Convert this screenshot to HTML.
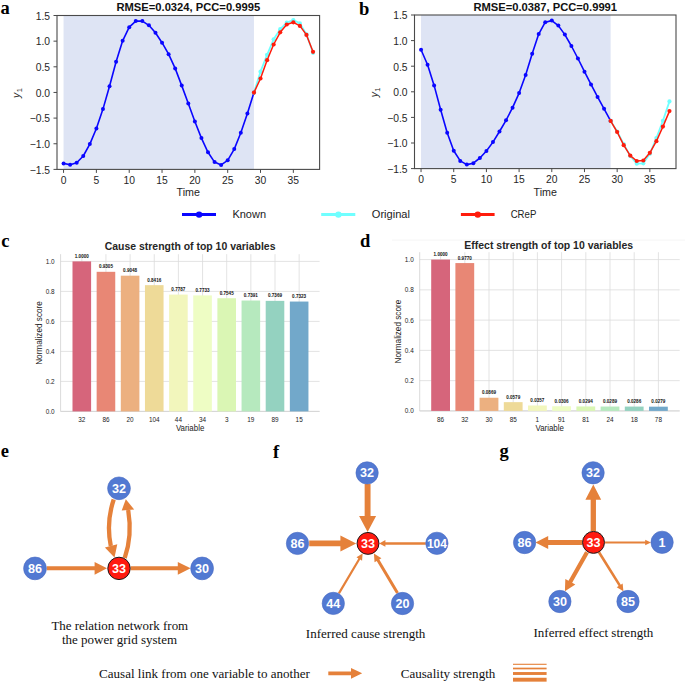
<!DOCTYPE html><html><head><meta charset="utf-8"><style>
html,body{margin:0;padding:0;background:#fff;width:685px;height:683px;overflow:hidden}
svg{display:block} text{font-family:"Liberation Sans", sans-serif;}
.tk{font-size:10.3px;fill:#262626}
.ttl{font-size:11.2px;font-weight:bold;fill:#111}
.lg{font-size:11.1px;fill:#222}
.btk{font-size:6.4px;fill:#222}
.blab{font-size:8.6px;fill:#222}
.bttl{font-size:11.2px;font-weight:bold;fill:#262626}
.val{font-size:4.6px;font-weight:bold;fill:#111}
.pl{font-family:"Liberation Serif", serif;font-weight:bold;font-size:18.5px;fill:#000}
.cap{font-family:"Liberation Serif", serif;font-size:13.2px;fill:#111}
.nd{font-weight:bold;fill:#fff}
</style></head><body>
<svg width="685" height="683" viewBox="0 0 685 683">
<rect width="685" height="683" fill="#fff"/>
<text x="0.4" y="14.4" class="pl">a</text>
<text x="359.1" y="14.6" class="pl">b</text>
<text x="1.2" y="247.2" class="pl">c</text>
<text x="360" y="247.1" class="pl">d</text>
<text x="0.8" y="457.1" class="pl">e</text>
<text x="273" y="457.5" class="pl">f</text>
<text x="499.6" y="456.6" class="pl">g</text>
<rect x="63.56" y="15.50" width="190.39" height="153.90" fill="#dee4f4"/>
<rect x="57.00" y="15.50" width="262.60" height="153.90" fill="none" stroke="#4a4a4a" stroke-width="1.1"/>
<line x1="53.50" y1="169.40" x2="57.00" y2="169.40" stroke="#4a4a4a" stroke-width="1"/>
<text x="50.00" y="173.70" text-anchor="end" class="tk">−1.5</text>
<line x1="53.50" y1="143.75" x2="57.00" y2="143.75" stroke="#4a4a4a" stroke-width="1"/>
<text x="50.00" y="148.05" text-anchor="end" class="tk">−1.0</text>
<line x1="53.50" y1="118.10" x2="57.00" y2="118.10" stroke="#4a4a4a" stroke-width="1"/>
<text x="50.00" y="122.40" text-anchor="end" class="tk">−0.5</text>
<line x1="53.50" y1="92.45" x2="57.00" y2="92.45" stroke="#4a4a4a" stroke-width="1"/>
<text x="50.00" y="96.75" text-anchor="end" class="tk">0.0</text>
<line x1="53.50" y1="66.80" x2="57.00" y2="66.80" stroke="#4a4a4a" stroke-width="1"/>
<text x="50.00" y="71.10" text-anchor="end" class="tk">0.5</text>
<line x1="53.50" y1="41.15" x2="57.00" y2="41.15" stroke="#4a4a4a" stroke-width="1"/>
<text x="50.00" y="45.45" text-anchor="end" class="tk">1.0</text>
<line x1="53.50" y1="15.50" x2="57.00" y2="15.50" stroke="#4a4a4a" stroke-width="1"/>
<text x="50.00" y="19.80" text-anchor="end" class="tk">1.5</text>
<line x1="63.56" y1="169.40" x2="63.56" y2="172.90" stroke="#4a4a4a" stroke-width="1"/>
<text x="63.56" y="183.50" text-anchor="middle" class="tk">0</text>
<line x1="96.39" y1="169.40" x2="96.39" y2="172.90" stroke="#4a4a4a" stroke-width="1"/>
<text x="96.39" y="183.50" text-anchor="middle" class="tk">5</text>
<line x1="129.22" y1="169.40" x2="129.22" y2="172.90" stroke="#4a4a4a" stroke-width="1"/>
<text x="129.22" y="183.50" text-anchor="middle" class="tk">10</text>
<line x1="162.04" y1="169.40" x2="162.04" y2="172.90" stroke="#4a4a4a" stroke-width="1"/>
<text x="162.04" y="183.50" text-anchor="middle" class="tk">15</text>
<line x1="194.87" y1="169.40" x2="194.87" y2="172.90" stroke="#4a4a4a" stroke-width="1"/>
<text x="194.87" y="183.50" text-anchor="middle" class="tk">20</text>
<line x1="227.69" y1="169.40" x2="227.69" y2="172.90" stroke="#4a4a4a" stroke-width="1"/>
<text x="227.69" y="183.50" text-anchor="middle" class="tk">25</text>
<line x1="260.51" y1="169.40" x2="260.51" y2="172.90" stroke="#4a4a4a" stroke-width="1"/>
<text x="260.51" y="183.50" text-anchor="middle" class="tk">30</text>
<line x1="293.34" y1="169.40" x2="293.34" y2="172.90" stroke="#4a4a4a" stroke-width="1"/>
<text x="293.34" y="183.50" text-anchor="middle" class="tk">35</text>
<text x="188.30" y="196.40" text-anchor="middle" class="tk" style="font-size:10.7px">Time</text>
<text x="188.30" y="11.00" text-anchor="middle" class="ttl">RMSE=0.0324, PCC=0.9995</text>
<g transform="translate(20.10,97.95) rotate(-90)"><text x="0" y="0" class="tk" font-style="italic">y</text><text x="5.6" y="2.2" class="tk" style="font-size:7.6px">1</text></g>
<polyline points="63.56,163.40 70.13,164.70 76.69,162.70 83.26,156.00 89.83,144.10 96.39,128.50 102.96,109.10 109.52,86.20 116.09,61.80 122.65,40.80 129.22,27.20 135.78,21.10 142.34,21.10 148.91,25.30 155.48,32.80 162.04,42.70 168.61,54.20 175.17,68.40 181.74,85.60 188.30,103.50 194.87,121.50 201.43,138.10 208.00,152.30 214.56,162.10 221.12,164.90 227.69,160.30 234.26,149.10 240.82,132.70 247.39,113.50 253.95,92.60" fill="none" stroke="#0a06ff" stroke-width="1.6" stroke-linejoin="round"/>
<circle cx="63.56" cy="163.40" r="2.0" fill="#0a06ff"/>
<circle cx="70.13" cy="164.70" r="2.0" fill="#0a06ff"/>
<circle cx="76.69" cy="162.70" r="2.0" fill="#0a06ff"/>
<circle cx="83.26" cy="156.00" r="2.0" fill="#0a06ff"/>
<circle cx="89.83" cy="144.10" r="2.0" fill="#0a06ff"/>
<circle cx="96.39" cy="128.50" r="2.0" fill="#0a06ff"/>
<circle cx="102.96" cy="109.10" r="2.0" fill="#0a06ff"/>
<circle cx="109.52" cy="86.20" r="2.0" fill="#0a06ff"/>
<circle cx="116.09" cy="61.80" r="2.0" fill="#0a06ff"/>
<circle cx="122.65" cy="40.80" r="2.0" fill="#0a06ff"/>
<circle cx="129.22" cy="27.20" r="2.0" fill="#0a06ff"/>
<circle cx="135.78" cy="21.10" r="2.0" fill="#0a06ff"/>
<circle cx="142.34" cy="21.10" r="2.0" fill="#0a06ff"/>
<circle cx="148.91" cy="25.30" r="2.0" fill="#0a06ff"/>
<circle cx="155.48" cy="32.80" r="2.0" fill="#0a06ff"/>
<circle cx="162.04" cy="42.70" r="2.0" fill="#0a06ff"/>
<circle cx="168.61" cy="54.20" r="2.0" fill="#0a06ff"/>
<circle cx="175.17" cy="68.40" r="2.0" fill="#0a06ff"/>
<circle cx="181.74" cy="85.60" r="2.0" fill="#0a06ff"/>
<circle cx="188.30" cy="103.50" r="2.0" fill="#0a06ff"/>
<circle cx="194.87" cy="121.50" r="2.0" fill="#0a06ff"/>
<circle cx="201.43" cy="138.10" r="2.0" fill="#0a06ff"/>
<circle cx="208.00" cy="152.30" r="2.0" fill="#0a06ff"/>
<circle cx="214.56" cy="162.10" r="2.0" fill="#0a06ff"/>
<circle cx="221.12" cy="164.90" r="2.0" fill="#0a06ff"/>
<circle cx="227.69" cy="160.30" r="2.0" fill="#0a06ff"/>
<circle cx="234.26" cy="149.10" r="2.0" fill="#0a06ff"/>
<circle cx="240.82" cy="132.70" r="2.0" fill="#0a06ff"/>
<circle cx="247.39" cy="113.50" r="2.0" fill="#0a06ff"/>
<circle cx="253.95" cy="92.60" r="2.0" fill="#0a06ff"/>
<polyline points="253.95,92.60 260.51,71.70 267.08,54.80 273.64,39.30 280.21,29.20 286.77,22.65 293.34,20.00 299.90,23.40 306.47,34.40 313.04,52.80" fill="none" stroke="#70ffff" stroke-width="1.8" stroke-linejoin="round"/>
<circle cx="253.95" cy="92.60" r="2.1" fill="#70ffff"/>
<circle cx="260.51" cy="71.70" r="2.1" fill="#70ffff"/>
<circle cx="267.08" cy="54.80" r="2.1" fill="#70ffff"/>
<circle cx="273.64" cy="39.30" r="2.1" fill="#70ffff"/>
<circle cx="280.21" cy="29.20" r="2.1" fill="#70ffff"/>
<circle cx="286.77" cy="22.65" r="2.1" fill="#70ffff"/>
<circle cx="293.34" cy="20.00" r="2.1" fill="#70ffff"/>
<circle cx="299.90" cy="23.40" r="2.1" fill="#70ffff"/>
<circle cx="306.47" cy="34.40" r="2.1" fill="#70ffff"/>
<circle cx="313.04" cy="52.80" r="2.1" fill="#70ffff"/>
<polyline points="253.95,92.60 260.51,78.50 267.08,60.20 273.64,44.50 280.21,32.30 286.77,24.50 293.34,22.30 299.90,25.90 306.47,34.90 313.04,51.80" fill="none" stroke="#ff1c0c" stroke-width="1.5" stroke-linejoin="round"/>
<circle cx="253.95" cy="92.60" r="2.1" fill="#ff1c0c"/>
<circle cx="260.51" cy="78.50" r="2.1" fill="#ff1c0c"/>
<circle cx="267.08" cy="60.20" r="2.1" fill="#ff1c0c"/>
<circle cx="273.64" cy="44.50" r="2.1" fill="#ff1c0c"/>
<circle cx="280.21" cy="32.30" r="2.1" fill="#ff1c0c"/>
<circle cx="286.77" cy="24.50" r="2.1" fill="#ff1c0c"/>
<circle cx="293.34" cy="22.30" r="2.1" fill="#ff1c0c"/>
<circle cx="299.90" cy="25.90" r="2.1" fill="#ff1c0c"/>
<circle cx="306.47" cy="34.90" r="2.1" fill="#ff1c0c"/>
<circle cx="313.04" cy="51.80" r="2.1" fill="#ff1c0c"/>
<rect x="421.04" y="15.00" width="189.59" height="153.60" fill="#dee4f4"/>
<rect x="414.50" y="15.00" width="261.50" height="153.60" fill="none" stroke="#4a4a4a" stroke-width="1.1"/>
<line x1="411.00" y1="168.60" x2="414.50" y2="168.60" stroke="#4a4a4a" stroke-width="1"/>
<text x="407.50" y="172.90" text-anchor="end" class="tk">−1.5</text>
<line x1="411.00" y1="143.00" x2="414.50" y2="143.00" stroke="#4a4a4a" stroke-width="1"/>
<text x="407.50" y="147.30" text-anchor="end" class="tk">−1.0</text>
<line x1="411.00" y1="117.40" x2="414.50" y2="117.40" stroke="#4a4a4a" stroke-width="1"/>
<text x="407.50" y="121.70" text-anchor="end" class="tk">−0.5</text>
<line x1="411.00" y1="91.80" x2="414.50" y2="91.80" stroke="#4a4a4a" stroke-width="1"/>
<text x="407.50" y="96.10" text-anchor="end" class="tk">0.0</text>
<line x1="411.00" y1="66.20" x2="414.50" y2="66.20" stroke="#4a4a4a" stroke-width="1"/>
<text x="407.50" y="70.50" text-anchor="end" class="tk">0.5</text>
<line x1="411.00" y1="40.60" x2="414.50" y2="40.60" stroke="#4a4a4a" stroke-width="1"/>
<text x="407.50" y="44.90" text-anchor="end" class="tk">1.0</text>
<line x1="411.00" y1="15.00" x2="414.50" y2="15.00" stroke="#4a4a4a" stroke-width="1"/>
<text x="407.50" y="19.30" text-anchor="end" class="tk">1.5</text>
<line x1="421.04" y1="168.60" x2="421.04" y2="172.10" stroke="#4a4a4a" stroke-width="1"/>
<text x="421.04" y="182.70" text-anchor="middle" class="tk">0</text>
<line x1="453.73" y1="168.60" x2="453.73" y2="172.10" stroke="#4a4a4a" stroke-width="1"/>
<text x="453.73" y="182.70" text-anchor="middle" class="tk">5</text>
<line x1="486.41" y1="168.60" x2="486.41" y2="172.10" stroke="#4a4a4a" stroke-width="1"/>
<text x="486.41" y="182.70" text-anchor="middle" class="tk">10</text>
<line x1="519.10" y1="168.60" x2="519.10" y2="172.10" stroke="#4a4a4a" stroke-width="1"/>
<text x="519.10" y="182.70" text-anchor="middle" class="tk">15</text>
<line x1="551.79" y1="168.60" x2="551.79" y2="172.10" stroke="#4a4a4a" stroke-width="1"/>
<text x="551.79" y="182.70" text-anchor="middle" class="tk">20</text>
<line x1="584.48" y1="168.60" x2="584.48" y2="172.10" stroke="#4a4a4a" stroke-width="1"/>
<text x="584.48" y="182.70" text-anchor="middle" class="tk">25</text>
<line x1="617.16" y1="168.60" x2="617.16" y2="172.10" stroke="#4a4a4a" stroke-width="1"/>
<text x="617.16" y="182.70" text-anchor="middle" class="tk">30</text>
<line x1="649.85" y1="168.60" x2="649.85" y2="172.10" stroke="#4a4a4a" stroke-width="1"/>
<text x="649.85" y="182.70" text-anchor="middle" class="tk">35</text>
<text x="545.25" y="195.60" text-anchor="middle" class="tk" style="font-size:10.7px">Time</text>
<text x="545.25" y="10.50" text-anchor="middle" class="ttl">RMSE=0.0387, PCC=0.9991</text>
<g transform="translate(377.60,97.30) rotate(-90)"><text x="0" y="0" class="tk" font-style="italic">y</text><text x="5.6" y="2.2" class="tk" style="font-size:7.6px">1</text></g>
<polyline points="421.04,49.80 427.57,64.80 434.11,85.40 440.65,109.80 447.19,132.70 453.73,150.70 460.26,160.90 466.80,164.60 473.34,163.20 479.88,158.00 486.41,151.00 492.95,142.10 499.49,131.50 506.02,120.30 512.56,107.70 519.10,93.10 525.64,75.10 532.17,53.80 538.71,34.10 545.25,22.20 551.79,20.60 558.33,25.60 564.86,34.60 571.40,46.00 577.94,58.50 584.48,71.70 591.01,84.40 597.55,96.90 604.09,108.80 610.62,120.90" fill="none" stroke="#0a06ff" stroke-width="1.6" stroke-linejoin="round"/>
<circle cx="421.04" cy="49.80" r="2.0" fill="#0a06ff"/>
<circle cx="427.57" cy="64.80" r="2.0" fill="#0a06ff"/>
<circle cx="434.11" cy="85.40" r="2.0" fill="#0a06ff"/>
<circle cx="440.65" cy="109.80" r="2.0" fill="#0a06ff"/>
<circle cx="447.19" cy="132.70" r="2.0" fill="#0a06ff"/>
<circle cx="453.73" cy="150.70" r="2.0" fill="#0a06ff"/>
<circle cx="460.26" cy="160.90" r="2.0" fill="#0a06ff"/>
<circle cx="466.80" cy="164.60" r="2.0" fill="#0a06ff"/>
<circle cx="473.34" cy="163.20" r="2.0" fill="#0a06ff"/>
<circle cx="479.88" cy="158.00" r="2.0" fill="#0a06ff"/>
<circle cx="486.41" cy="151.00" r="2.0" fill="#0a06ff"/>
<circle cx="492.95" cy="142.10" r="2.0" fill="#0a06ff"/>
<circle cx="499.49" cy="131.50" r="2.0" fill="#0a06ff"/>
<circle cx="506.02" cy="120.30" r="2.0" fill="#0a06ff"/>
<circle cx="512.56" cy="107.70" r="2.0" fill="#0a06ff"/>
<circle cx="519.10" cy="93.10" r="2.0" fill="#0a06ff"/>
<circle cx="525.64" cy="75.10" r="2.0" fill="#0a06ff"/>
<circle cx="532.17" cy="53.80" r="2.0" fill="#0a06ff"/>
<circle cx="538.71" cy="34.10" r="2.0" fill="#0a06ff"/>
<circle cx="545.25" cy="22.20" r="2.0" fill="#0a06ff"/>
<circle cx="551.79" cy="20.60" r="2.0" fill="#0a06ff"/>
<circle cx="558.33" cy="25.60" r="2.0" fill="#0a06ff"/>
<circle cx="564.86" cy="34.60" r="2.0" fill="#0a06ff"/>
<circle cx="571.40" cy="46.00" r="2.0" fill="#0a06ff"/>
<circle cx="577.94" cy="58.50" r="2.0" fill="#0a06ff"/>
<circle cx="584.48" cy="71.70" r="2.0" fill="#0a06ff"/>
<circle cx="591.01" cy="84.40" r="2.0" fill="#0a06ff"/>
<circle cx="597.55" cy="96.90" r="2.0" fill="#0a06ff"/>
<circle cx="604.09" cy="108.80" r="2.0" fill="#0a06ff"/>
<circle cx="610.62" cy="120.90" r="2.0" fill="#0a06ff"/>
<polyline points="610.62,120.90 617.16,131.50 623.70,144.10 630.24,155.90 636.77,163.70 643.31,163.30 649.85,153.80 656.39,138.00 662.92,120.80 669.46,101.40" fill="none" stroke="#70ffff" stroke-width="1.8" stroke-linejoin="round"/>
<circle cx="610.62" cy="120.90" r="2.1" fill="#70ffff"/>
<circle cx="617.16" cy="131.50" r="2.1" fill="#70ffff"/>
<circle cx="623.70" cy="144.10" r="2.1" fill="#70ffff"/>
<circle cx="630.24" cy="155.90" r="2.1" fill="#70ffff"/>
<circle cx="636.77" cy="163.70" r="2.1" fill="#70ffff"/>
<circle cx="643.31" cy="163.30" r="2.1" fill="#70ffff"/>
<circle cx="649.85" cy="153.80" r="2.1" fill="#70ffff"/>
<circle cx="656.39" cy="138.00" r="2.1" fill="#70ffff"/>
<circle cx="662.92" cy="120.80" r="2.1" fill="#70ffff"/>
<circle cx="669.46" cy="101.40" r="2.1" fill="#70ffff"/>
<polyline points="610.62,120.90 617.16,132.00 623.70,145.20 630.24,155.60 636.77,161.00 643.31,160.50 649.85,152.80 656.39,141.20 662.92,126.60 669.46,111.10" fill="none" stroke="#ff1c0c" stroke-width="1.5" stroke-linejoin="round"/>
<circle cx="610.62" cy="120.90" r="2.1" fill="#ff1c0c"/>
<circle cx="617.16" cy="132.00" r="2.1" fill="#ff1c0c"/>
<circle cx="623.70" cy="145.20" r="2.1" fill="#ff1c0c"/>
<circle cx="630.24" cy="155.60" r="2.1" fill="#ff1c0c"/>
<circle cx="636.77" cy="161.00" r="2.1" fill="#ff1c0c"/>
<circle cx="643.31" cy="160.50" r="2.1" fill="#ff1c0c"/>
<circle cx="649.85" cy="152.80" r="2.1" fill="#ff1c0c"/>
<circle cx="656.39" cy="141.20" r="2.1" fill="#ff1c0c"/>
<circle cx="662.92" cy="126.60" r="2.1" fill="#ff1c0c"/>
<circle cx="669.46" cy="111.10" r="2.1" fill="#ff1c0c"/>
<line x1="182" y1="214.6" x2="216" y2="214.6" stroke="#0a06ff" stroke-width="3"/>
<circle cx="199.1" cy="214.6" r="3.2" fill="#0a06ff"/>
<text x="232.4" y="218.4" class="lg" textLength="33.6" lengthAdjust="spacingAndGlyphs">Known</text>
<line x1="321.2" y1="214.6" x2="355.3" y2="214.6" stroke="#70ffff" stroke-width="3"/>
<circle cx="338.4" cy="214.6" r="3.2" fill="#70ffff"/>
<text x="371.8" y="218.4" class="lg" textLength="38.2" lengthAdjust="spacingAndGlyphs">Original</text>
<line x1="460.9" y1="214.6" x2="494.6" y2="214.6" stroke="#ff1c0c" stroke-width="3"/>
<circle cx="477.8" cy="214.6" r="3.2" fill="#ff1c0c"/>
<text x="510.7" y="218.4" class="lg" textLength="25.6" lengthAdjust="spacingAndGlyphs">CReP</text>
<line x1="60.60" y1="411.40" x2="319.60" y2="411.40" stroke="#dcdcdc" stroke-width="0.8"/>
<text x="54.60" y="413.80" text-anchor="end" class="btk">0.0</text>
<line x1="60.60" y1="381.40" x2="319.60" y2="381.40" stroke="#dcdcdc" stroke-width="0.8"/>
<text x="54.60" y="383.80" text-anchor="end" class="btk">0.2</text>
<line x1="60.60" y1="351.40" x2="319.60" y2="351.40" stroke="#dcdcdc" stroke-width="0.8"/>
<text x="54.60" y="353.80" text-anchor="end" class="btk">0.4</text>
<line x1="60.60" y1="321.40" x2="319.60" y2="321.40" stroke="#dcdcdc" stroke-width="0.8"/>
<text x="54.60" y="323.80" text-anchor="end" class="btk">0.6</text>
<line x1="60.60" y1="291.40" x2="319.60" y2="291.40" stroke="#dcdcdc" stroke-width="0.8"/>
<text x="54.60" y="293.80" text-anchor="end" class="btk">0.8</text>
<line x1="60.60" y1="261.40" x2="319.60" y2="261.40" stroke="#dcdcdc" stroke-width="0.8"/>
<text x="54.60" y="263.80" text-anchor="end" class="btk">1.0</text>
<line x1="81.80" y1="254.20" x2="81.80" y2="411.40" stroke="#dcdcdc" stroke-width="0.8"/>
<line x1="105.95" y1="254.20" x2="105.95" y2="411.40" stroke="#dcdcdc" stroke-width="0.8"/>
<line x1="130.10" y1="254.20" x2="130.10" y2="411.40" stroke="#dcdcdc" stroke-width="0.8"/>
<line x1="154.25" y1="254.20" x2="154.25" y2="411.40" stroke="#dcdcdc" stroke-width="0.8"/>
<line x1="178.40" y1="254.20" x2="178.40" y2="411.40" stroke="#dcdcdc" stroke-width="0.8"/>
<line x1="202.55" y1="254.20" x2="202.55" y2="411.40" stroke="#dcdcdc" stroke-width="0.8"/>
<line x1="226.70" y1="254.20" x2="226.70" y2="411.40" stroke="#dcdcdc" stroke-width="0.8"/>
<line x1="250.85" y1="254.20" x2="250.85" y2="411.40" stroke="#dcdcdc" stroke-width="0.8"/>
<line x1="275.00" y1="254.20" x2="275.00" y2="411.40" stroke="#dcdcdc" stroke-width="0.8"/>
<line x1="299.15" y1="254.20" x2="299.15" y2="411.40" stroke="#dcdcdc" stroke-width="0.8"/>
<line x1="60.60" y1="254.20" x2="60.60" y2="411.40" stroke="#d0d0d0" stroke-width="0.8"/>
<line x1="60.60" y1="411.40" x2="319.60" y2="411.40" stroke="#d0d0d0" stroke-width="0.8"/>
<rect x="72.50" y="261.40" width="18.60" height="150.00" fill="#d6657b"/>
<text x="81.80" y="257.90" text-anchor="middle" class="val">1.0000</text>
<text x="81.80" y="422.20" text-anchor="middle" class="btk">32</text>
<rect x="96.65" y="271.82" width="18.60" height="139.57" fill="#e88775"/>
<text x="105.95" y="268.32" text-anchor="middle" class="val">0.9305</text>
<text x="105.95" y="422.20" text-anchor="middle" class="btk">86</text>
<rect x="120.80" y="275.68" width="18.60" height="135.72" fill="#ecb080"/>
<text x="130.10" y="272.18" text-anchor="middle" class="val">0.9048</text>
<text x="130.10" y="422.20" text-anchor="middle" class="btk">20</text>
<rect x="144.95" y="285.16" width="18.60" height="126.24" fill="#eeda98"/>
<text x="154.25" y="281.66" text-anchor="middle" class="val">0.8416</text>
<text x="154.25" y="422.20" text-anchor="middle" class="btk">104</text>
<rect x="169.10" y="294.59" width="18.60" height="116.80" fill="#f2f6bc"/>
<text x="178.40" y="291.09" text-anchor="middle" class="val">0.7787</text>
<text x="178.40" y="422.20" text-anchor="middle" class="btk">44</text>
<rect x="193.25" y="295.40" width="18.60" height="116.00" fill="#eefdc4"/>
<text x="202.55" y="291.90" text-anchor="middle" class="val">0.7733</text>
<text x="202.55" y="422.20" text-anchor="middle" class="btk">34</text>
<rect x="217.40" y="298.22" width="18.60" height="113.17" fill="#daf6b4"/>
<text x="226.70" y="294.72" text-anchor="middle" class="val">0.7545</text>
<text x="226.70" y="422.20" text-anchor="middle" class="btk">3</text>
<rect x="241.55" y="300.53" width="18.60" height="110.86" fill="#b6e9be"/>
<text x="250.85" y="297.03" text-anchor="middle" class="val">0.7391</text>
<text x="250.85" y="422.20" text-anchor="middle" class="btk">19</text>
<rect x="265.70" y="300.87" width="18.60" height="110.53" fill="#94d2c0"/>
<text x="275.00" y="297.37" text-anchor="middle" class="val">0.7369</text>
<text x="275.00" y="422.20" text-anchor="middle" class="btk">89</text>
<rect x="289.85" y="301.55" width="18.60" height="109.84" fill="#72a8ca"/>
<text x="299.15" y="298.05" text-anchor="middle" class="val">0.7323</text>
<text x="299.15" y="422.20" text-anchor="middle" class="btk">15</text>
<text x="190.10" y="431.40" text-anchor="middle" class="blab" textLength="28.4" lengthAdjust="spacingAndGlyphs">Variable</text>
<text x="190.10" y="249.90" text-anchor="middle" class="bttl" textLength="170.8" lengthAdjust="spacingAndGlyphs">Cause strength of top 10 variables</text>
<text transform="translate(42.40,333.00) rotate(-90)" x="0" y="0" text-anchor="middle" class="blab" textLength="63.6" lengthAdjust="spacingAndGlyphs">Normalized score</text>
<line x1="392" y1="240.1" x2="685" y2="240.1" stroke="#f2f2f2" stroke-width="0.8"/>
<line x1="419.70" y1="410.90" x2="679.70" y2="410.90" stroke="#dcdcdc" stroke-width="0.8"/>
<text x="413.70" y="413.30" text-anchor="end" class="btk">0.0</text>
<line x1="419.70" y1="380.64" x2="679.70" y2="380.64" stroke="#dcdcdc" stroke-width="0.8"/>
<text x="413.70" y="383.04" text-anchor="end" class="btk">0.2</text>
<line x1="419.70" y1="350.38" x2="679.70" y2="350.38" stroke="#dcdcdc" stroke-width="0.8"/>
<text x="413.70" y="352.78" text-anchor="end" class="btk">0.4</text>
<line x1="419.70" y1="320.12" x2="679.70" y2="320.12" stroke="#dcdcdc" stroke-width="0.8"/>
<text x="413.70" y="322.52" text-anchor="end" class="btk">0.6</text>
<line x1="419.70" y1="289.86" x2="679.70" y2="289.86" stroke="#dcdcdc" stroke-width="0.8"/>
<text x="413.70" y="292.26" text-anchor="end" class="btk">0.8</text>
<line x1="419.70" y1="259.60" x2="679.70" y2="259.60" stroke="#dcdcdc" stroke-width="0.8"/>
<text x="413.70" y="262.00" text-anchor="end" class="btk">1.0</text>
<line x1="440.60" y1="252.20" x2="440.60" y2="410.90" stroke="#dcdcdc" stroke-width="0.8"/>
<line x1="464.80" y1="252.20" x2="464.80" y2="410.90" stroke="#dcdcdc" stroke-width="0.8"/>
<line x1="489.00" y1="252.20" x2="489.00" y2="410.90" stroke="#dcdcdc" stroke-width="0.8"/>
<line x1="513.20" y1="252.20" x2="513.20" y2="410.90" stroke="#dcdcdc" stroke-width="0.8"/>
<line x1="537.40" y1="252.20" x2="537.40" y2="410.90" stroke="#dcdcdc" stroke-width="0.8"/>
<line x1="561.60" y1="252.20" x2="561.60" y2="410.90" stroke="#dcdcdc" stroke-width="0.8"/>
<line x1="585.80" y1="252.20" x2="585.80" y2="410.90" stroke="#dcdcdc" stroke-width="0.8"/>
<line x1="610.00" y1="252.20" x2="610.00" y2="410.90" stroke="#dcdcdc" stroke-width="0.8"/>
<line x1="634.20" y1="252.20" x2="634.20" y2="410.90" stroke="#dcdcdc" stroke-width="0.8"/>
<line x1="658.40" y1="252.20" x2="658.40" y2="410.90" stroke="#dcdcdc" stroke-width="0.8"/>
<line x1="419.70" y1="252.20" x2="419.70" y2="410.90" stroke="#d0d0d0" stroke-width="0.8"/>
<line x1="419.70" y1="410.90" x2="679.70" y2="410.90" stroke="#d0d0d0" stroke-width="0.8"/>
<rect x="431.20" y="259.60" width="18.80" height="151.30" fill="#d6657b"/>
<text x="440.60" y="256.10" text-anchor="middle" class="val">1.0000</text>
<text x="440.60" y="421.70" text-anchor="middle" class="btk">86</text>
<rect x="455.40" y="263.08" width="18.80" height="147.82" fill="#e88775"/>
<text x="464.80" y="259.58" text-anchor="middle" class="val">0.9770</text>
<text x="464.80" y="421.70" text-anchor="middle" class="btk">32</text>
<rect x="479.60" y="397.75" width="18.80" height="13.15" fill="#ecb080"/>
<text x="489.00" y="394.25" text-anchor="middle" class="val">0.0869</text>
<text x="489.00" y="421.70" text-anchor="middle" class="btk">30</text>
<rect x="503.80" y="402.14" width="18.80" height="8.76" fill="#eeda98"/>
<text x="513.20" y="398.64" text-anchor="middle" class="val">0.0579</text>
<text x="513.20" y="421.70" text-anchor="middle" class="btk">85</text>
<rect x="528.00" y="405.50" width="18.80" height="5.40" fill="#f2f6bc"/>
<text x="537.40" y="402.00" text-anchor="middle" class="val">0.0357</text>
<text x="537.40" y="421.70" text-anchor="middle" class="btk">1</text>
<rect x="552.20" y="406.27" width="18.80" height="4.63" fill="#eefdc4"/>
<text x="561.60" y="402.77" text-anchor="middle" class="val">0.0306</text>
<text x="561.60" y="421.70" text-anchor="middle" class="btk">91</text>
<rect x="576.40" y="406.45" width="18.80" height="4.45" fill="#daf6b4"/>
<text x="585.80" y="402.95" text-anchor="middle" class="val">0.0294</text>
<text x="585.80" y="421.70" text-anchor="middle" class="btk">81</text>
<rect x="600.60" y="406.53" width="18.80" height="4.37" fill="#b6e9be"/>
<text x="610.00" y="403.03" text-anchor="middle" class="val">0.0289</text>
<text x="610.00" y="421.70" text-anchor="middle" class="btk">24</text>
<rect x="624.80" y="406.57" width="18.80" height="4.33" fill="#94d2c0"/>
<text x="634.20" y="403.07" text-anchor="middle" class="val">0.0286</text>
<text x="634.20" y="421.70" text-anchor="middle" class="btk">18</text>
<rect x="649.00" y="406.68" width="18.80" height="4.22" fill="#72a8ca"/>
<text x="658.40" y="403.18" text-anchor="middle" class="val">0.0279</text>
<text x="658.40" y="421.70" text-anchor="middle" class="btk">78</text>
<text x="549.70" y="430.90" text-anchor="middle" class="blab" textLength="28.4" lengthAdjust="spacingAndGlyphs">Variable</text>
<text x="548.70" y="248.60" text-anchor="middle" class="bttl" textLength="168.8" lengthAdjust="spacingAndGlyphs">Effect strength of top 10 variables</text>
<text transform="translate(400.70,331.60) rotate(-90)" x="0" y="0" text-anchor="middle" class="blab" textLength="63.6" lengthAdjust="spacingAndGlyphs">Normalized score</text>
<path d="M113.7,499.5 C108.5,515 107.5,530 110.8,546" fill="none" stroke="#e5813a" stroke-width="4.3"/>
<polygon points="104.9,547.5 117.3,544.3 114.5,557.4" fill="#e5813a"/>
<path d="M124.7,558 C130,543 131,527 128.2,510" fill="none" stroke="#e5813a" stroke-width="4.3"/>
<polygon points="121.7,510.5 134.2,509.5 125.8,499.3" fill="#e5813a"/>
<polygon points="46.70,570.30 94.60,570.30 94.60,574.70 107.00,568.30 94.60,561.90 94.60,566.30 46.70,566.30" fill="#e5813a"/>
<polygon points="130.70,570.30 177.80,570.30 177.80,574.70 190.60,568.30 177.80,561.90 177.80,566.30 130.70,566.30" fill="#e5813a"/>
<circle cx="35.0" cy="568.4" r="11.4" fill="#5279d2" stroke="#4a6cc2" stroke-width="0.6"/>
<text x="35.0" y="572.60" text-anchor="middle" class="nd" font-size="12.6">86</text>
<circle cx="119.0" cy="488.3" r="11.4" fill="#5279d2" stroke="#4a6cc2" stroke-width="0.6"/>
<text x="119.0" y="492.50" text-anchor="middle" class="nd" font-size="12.6">32</text>
<circle cx="202.1" cy="568.4" r="11.4" fill="#5279d2" stroke="#4a6cc2" stroke-width="0.6"/>
<text x="202.1" y="572.60" text-anchor="middle" class="nd" font-size="12.6">30</text>
<circle cx="119.0" cy="568.4" r="11.2" fill="#ff1a10" stroke="#1a1a1a" stroke-width="1"/>
<text x="119.0" y="572.60" text-anchor="middle" class="nd" font-size="12.6">33</text>
<text x="119.8" y="629.9" text-anchor="middle" class="cap" textLength="136.8" lengthAdjust="spacingAndGlyphs">The relation network from</text>
<text x="119.5" y="643.9" text-anchor="middle" class="cap" textLength="115.1" lengthAdjust="spacingAndGlyphs">the power grid system</text>
<polygon points="364.65,484.00 364.65,516.00 359.10,516.00 367.60,532.00 376.10,516.00 370.55,516.00 370.55,484.00" fill="#e5813a"/>
<polygon points="309.20,546.30 340.40,546.30 340.40,551.40 356.20,543.40 340.40,535.40 340.40,540.50 309.20,540.50" fill="#e5813a"/>
<polygon points="425.80,542.15 385.40,542.15 385.40,540.00 379.20,543.40 385.40,546.80 385.40,544.65 425.80,544.65" fill="#e5813a"/>
<polygon points="339.85,593.96 360.23,559.55 362.08,560.65 362.60,553.40 356.49,557.34 358.34,558.43 337.95,592.84" fill="#e5813a"/>
<polygon points="398.79,592.23 379.28,559.50 381.43,558.22 373.90,553.40 374.56,562.32 376.71,561.04 396.21,593.77" fill="#e5813a"/>
<circle cx="367.1" cy="472.9" r="11.15" fill="#5279d2" stroke="#4a6cc2" stroke-width="0.6"/>
<text x="367.1" y="477.10" text-anchor="middle" class="nd" font-size="12.6">32</text>
<circle cx="297.5" cy="543.4" r="11.15" fill="#5279d2" stroke="#4a6cc2" stroke-width="0.6"/>
<text x="297.5" y="547.60" text-anchor="middle" class="nd" font-size="12.6">86</text>
<circle cx="436.9" cy="543.3" r="11.15" fill="#5279d2" stroke="#4a6cc2" stroke-width="0.6"/>
<text x="436.9" y="547.50" text-anchor="middle" class="nd" font-size="12.0">104</text>
<circle cx="333.3" cy="603.4" r="11.15" fill="#5279d2" stroke="#4a6cc2" stroke-width="0.6"/>
<text x="333.3" y="607.60" text-anchor="middle" class="nd" font-size="12.6">44</text>
<circle cx="402.5" cy="603.5" r="11.15" fill="#5279d2" stroke="#4a6cc2" stroke-width="0.6"/>
<text x="402.5" y="607.70" text-anchor="middle" class="nd" font-size="12.6">20</text>
<circle cx="368.0" cy="543.4" r="10.95" fill="#ff1a10" stroke="#1a1a1a" stroke-width="1"/>
<text x="368.0" y="547.60" text-anchor="middle" class="nd" font-size="12.6">33</text>
<text x="365.6" y="637.5" text-anchor="middle" class="cap" textLength="119.6" lengthAdjust="spacingAndGlyphs">Inferred cause strength</text>
<polygon points="595.95,531.20 595.95,499.70 601.20,499.70 593.30,484.40 585.40,499.70 590.65,499.70 590.65,531.20" fill="#e5813a"/>
<polygon points="582.30,539.90 548.20,539.90 548.20,535.90 535.40,542.40 548.20,548.90 548.20,544.90 582.30,544.90" fill="#e5813a"/>
<polygon points="604.80,543.40 645.20,543.40 645.20,545.15 651.00,542.40 645.20,539.65 645.20,541.40 604.80,541.40" fill="#e5813a"/>
<polygon points="585.17,551.26 568.50,580.69 565.32,578.89 564.90,591.30 575.33,584.56 572.15,582.77 588.83,553.34" fill="#e5813a"/>
<polygon points="597.90,552.99 618.59,586.06 616.72,587.22 623.40,591.30 622.65,583.51 620.79,584.68 600.10,551.61" fill="#e5813a"/>
<circle cx="593.1" cy="472.8" r="11.15" fill="#5279d2" stroke="#4a6cc2" stroke-width="0.6"/>
<text x="593.1" y="477.00" text-anchor="middle" class="nd" font-size="12.6">32</text>
<circle cx="524.6" cy="542.5" r="11.15" fill="#5279d2" stroke="#4a6cc2" stroke-width="0.6"/>
<text x="524.6" y="546.70" text-anchor="middle" class="nd" font-size="12.6">86</text>
<circle cx="662.1" cy="542.3" r="11.15" fill="#5279d2" stroke="#4a6cc2" stroke-width="0.6"/>
<text x="662.1" y="546.50" text-anchor="middle" class="nd" font-size="12.6">1</text>
<circle cx="559.9" cy="601.5" r="11.15" fill="#5279d2" stroke="#4a6cc2" stroke-width="0.6"/>
<text x="559.9" y="605.70" text-anchor="middle" class="nd" font-size="12.6">30</text>
<circle cx="628.0" cy="601.5" r="11.15" fill="#5279d2" stroke="#4a6cc2" stroke-width="0.6"/>
<text x="628.0" y="605.70" text-anchor="middle" class="nd" font-size="12.6">85</text>
<circle cx="593.5" cy="542.4" r="10.95" fill="#ff1a10" stroke="#1a1a1a" stroke-width="1"/>
<text x="593.5" y="546.60" text-anchor="middle" class="nd" font-size="12.6">33</text>
<text x="593.4" y="636.9" text-anchor="middle" class="cap" textLength="119.8" lengthAdjust="spacingAndGlyphs">Inferred effect strength</text>
<text x="99.1" y="678.2" class="cap" textLength="210.7" lengthAdjust="spacingAndGlyphs">Causal link from one variable to another</text>
<polygon points="328.30,675.15 351.00,675.15 351.00,678.65 362.20,673.30 351.00,667.95 351.00,671.45 328.30,671.45" fill="#e5813a"/>
<text x="400.8" y="677.6" class="cap" textLength="94.5" lengthAdjust="spacingAndGlyphs">Causality strength</text>
<rect x="513" y="663.75" width="33.6" height="1.1" fill="#e5813a"/>
<rect x="513" y="667.65" width="33.6" height="1.7" fill="#e5813a"/>
<rect x="513" y="672.05" width="33.6" height="2.9" fill="#e5813a"/>
<rect x="513" y="677.75" width="33.6" height="3.9" fill="#e5813a"/>
</svg></body></html>
